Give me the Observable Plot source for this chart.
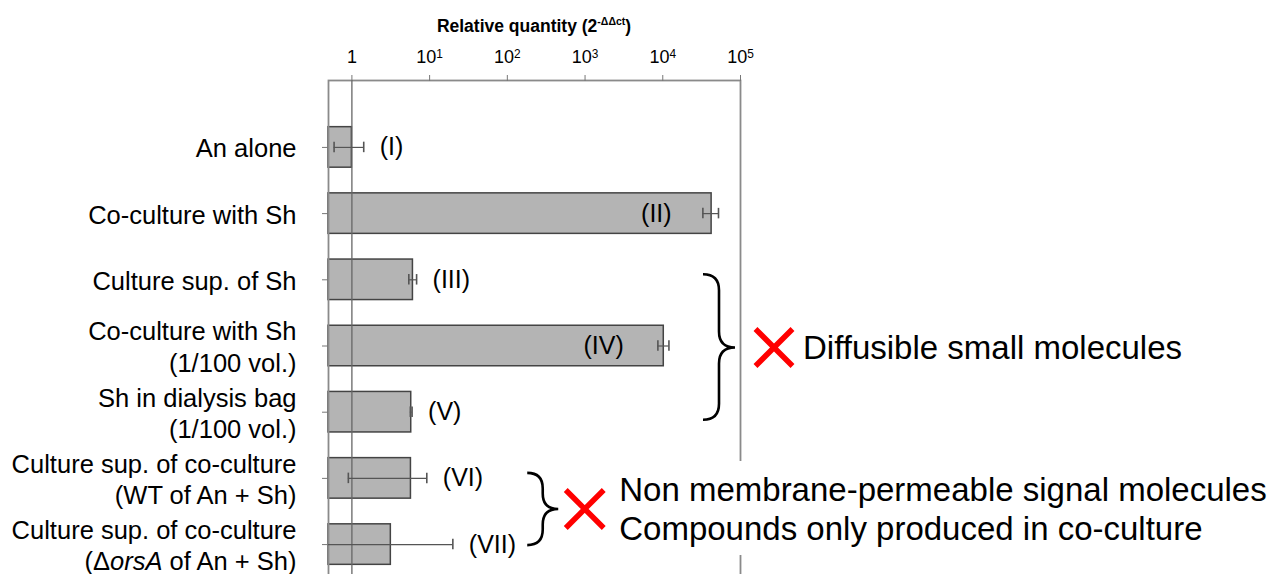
<!DOCTYPE html>
<html>
<head>
<meta charset="utf-8">
<script src="https://cdn.jsdelivr.net/npm/d3@7"></script>
<script src="https://cdn.jsdelivr.net/npm/@observablehq/plot@0.6"></script>
<style>
  html, body { margin: 0; padding: 0; background: #fff; overflow: hidden; }
  #chart { position: relative; width: 1281px; height: 574px; overflow: hidden; }
  svg { overflow: visible; }
</style>
</head>
<body>
<div id="chart"></div>
<script>
// ---------- data ----------
const categories = [
  "An alone",
  "Co-culture with Sh",
  "Culture sup. of Sh",
  "Co-culture with Sh\n(1/100 vol.)",
  "Sh in dialysis bag\n(1/100 vol.)",
  "Culture sup. of co-culture\n(WT of An + Sh)",
  "Culture sup. of co-culture\n(ΔorsA of An + Sh)"
];
const values  = [1, 42500, 6.1, 10300, 5.8, 5.75, 3.17];
const errLow  = [0.59, 32800, 5.4, 8650, 5.65, 0.9, -13.5];
const errHigh = [1.42, 52100, 6.8, 12000, 5.95, 9.2, 19.9];
const romanLabels = ["(I)", "(II)", "(III)", "(IV)", "(V)", "(VI)", "(VII)"];
const xTicks = [1, 10, 100, 1000, 10000, 100000];
const xDomain = [0.5, 100000];
const titleMain = "Relative quantity (2";
const titleSup = "-ΔΔct";
const annotation1 = "Diffusible small molecules";
const annotation2 = ["Non membrane-permeable signal molecules", "Compounds only produced in co-culture"];
const group1 = [categories[2], categories[3], categories[4]];
const group2 = [categories[5], categories[6]];
const group2AnchorX = 183; // data-x where the second brace sits

// ---------- derived table ----------
const xMin = xDomain[0];
const rows = categories.map((c, i) => ({
  category: c,
  value: values[i],
  low: Math.max(errLow[i], xMin),
  high: errHigh[i],
  clipped: errLow[i] < xMin,
  label: romanLabels[i],
  inside: values[i] > 1000
}));

const FONT = "'Liberation Sans', Arial, Helvetica, sans-serif";

function annotations(index, scales) {
  const {x, y} = scales;
  const bw = y.bandwidth();
  const yc = c => y(c) + bw / 2;
  const g = d3.create("svg:g").attr("font-family", FONT).attr("text-anchor", "start");

  function brace(x0, y0, y1, ym, w) {
    const xm = x0 + w / 2, x1 = x0 + w, r = w / 2;
    const p = `M${x0},${y0} Q${xm},${y0} ${xm},${y0 + r} L${xm},${ym - r} Q${xm},${ym} ${x1},${ym}`
      + ` Q${xm},${ym} ${xm},${ym + r} L${xm},${y1 - r} Q${xm},${y1} ${x0},${y1}`;
    g.append("path").attr("d", p).attr("fill", "none").attr("stroke", "#000").attr("stroke-width", 2.6);
  }
  function cross(cx, cy, h) {
    g.append("path")
      .attr("d", `M${cx - h},${cy - h} L${cx + h},${cy + h} M${cx - h},${cy + h} L${cx + h},${cy - h}`)
      .attr("stroke", "#ff0000").attr("stroke-width", 5.5).attr("fill", "none");
  }

  // title
  const xl = x(xDomain[0]), xr = x(xDomain[1]);
  const t = g.append("text").attr("x", (xl + xr) / 2).attr("y", 32)
    .attr("text-anchor", "middle").attr("font-weight", "bold").attr("font-size", 17.5).attr("fill", "#000");
  t.append("tspan").text(titleMain);
  t.append("tspan").attr("dy", -7).attr("font-size", 10.5).text(titleSup);
  t.append("tspan").attr("dy", 7).text(")");

  // group 1
  const ym1 = yc(group1[1]) + 2;
  brace(xr - 37, yc(group1[0]) - 5, yc(group1[2]) + 8, ym1, 32);
  cross(xr + 34, ym1, 18.5);
  g.append("text").attr("x", xr + 63).attr("y", ym1).attr("dy", "0.36em").attr("text-anchor", "start")
    .attr("font-size", 33).attr("fill", "#000").text(annotation1);

  // group 2
  const gx = x(group2AnchorX);
  const ym2 = (yc(group2[0]) + yc(group2[1])) / 2 - 2;
  g.append("rect").attr("x", gx + 86).attr("y", 461).attr("width", 1278 - gx - 86).attr("height", 94).attr("fill", "#fff");
  brace(gx, yc(group2[0]) - 5, yc(group2[1]) + 1, ym2, 31);
  cross(gx + 57.5, ym2, 19);
  const t2 = g.append("text").attr("font-size", 33).attr("fill", "#000").attr("text-anchor", "start");
  t2.append("tspan").attr("x", gx + 92).attr("y", ym2 - 19.5).attr("dy", "0.36em").text(annotation2[0]);
  t2.append("tspan").attr("x", gx + 92).attr("y", ym2 + 19.5).attr("dy", "0.36em").text(annotation2[1]);
  return g.node();
}

const chart = Plot.plot({
  width: 1281,
  height: 611,
  marginTop: 80,
  marginBottom: 0,
  marginLeft: 328,
  marginRight: 541,
  style: {fontFamily: FONT, fontSize: "18px", color: "#000", background: "#fff"},
  x: {type: "log", domain: xDomain},
  y: {domain: categories, range: [80, 611], paddingInner: 0.388, paddingOuter: 0.705, round: false},
  marks: [
    Plot.barX(rows, {y: "category", x1: xMin, x2: "value", fill: "#b4b4b4", stroke: "#444", strokeWidth: 1.5}),
    Plot.frame({stroke: "#8a8a8a", strokeWidth: 1.8}),
    Plot.ruleX([1], {stroke: "#666", strokeWidth: 1.3}),
    Plot.ruleY(rows, {y: "category", x1: "low", x2: "high", stroke: "#555", strokeWidth: 1.2}),
    Plot.tickX(rows.filter(d => !d.clipped), {x: "low", y: "category", insetTop: 15, insetBottom: 15, stroke: "#555", strokeWidth: 1.6}),
    Plot.tickX(rows, {x: "high", y: "category", insetTop: 15, insetBottom: 15, stroke: "#555", strokeWidth: 1.6}),
    Plot.text(rows.filter(d => !d.inside), {x: "high", y: "category", text: "label", dx: 16, textAnchor: "start", fontSize: 25, fill: "#000"}),
    Plot.text(rows.filter(d => d.inside), {x: "value", y: "category", text: "label", dx: -40, textAnchor: "end", fontSize: 25, fill: "#000"}),
    Plot.text(rows, {x: xMin, y: "category", text: "category", dx: -32, textAnchor: "end", fontSize: 25.5, lineHeight: 1.22, fill: "#000"}),
    Plot.axisY({tickSize: 6, tickFormat: () => "", label: null, stroke: "#777"}),
    Plot.axisX({anchor: "top", ticks: xTicks, tickSize: 6, tickPadding: 12, label: null, stroke: "#777",
      tickFormat: d => d === 1 ? "1" : `10^${Math.round(Math.log10(d))}`, fontSize: 18, fill: "#000"}),
    annotations
  ]
});

document.getElementById("chart").appendChild(chart);

// superscripts on x tick labels
chart.querySelectorAll("text").forEach(el => {
  if (el.childElementCount === 0 && /^10\^\d$/.test(el.textContent)) {
    const exp = el.textContent.split("^")[1];
    el.textContent = "10";
    const ts = document.createElementNS("http://www.w3.org/2000/svg", "tspan");
    ts.setAttribute("dy", "-0.42em");
    ts.setAttribute("font-size", "0.66em");
    ts.textContent = exp;
    el.appendChild(ts);
  }
});
// italic gene name
chart.querySelectorAll("tspan, text").forEach(el => {
  if (el.childElementCount === 0 && el.textContent.includes("ΔorsA")) {
    const [before, after] = el.textContent.split("orsA");
    el.textContent = before;
    const it = document.createElementNS("http://www.w3.org/2000/svg", "tspan");
    it.setAttribute("font-style", "italic");
    it.textContent = "orsA";
    el.appendChild(it);
    const rest = document.createElementNS("http://www.w3.org/2000/svg", "tspan");
    rest.textContent = after;
    el.appendChild(rest);
  }
});
</script>
</body>
</html>
